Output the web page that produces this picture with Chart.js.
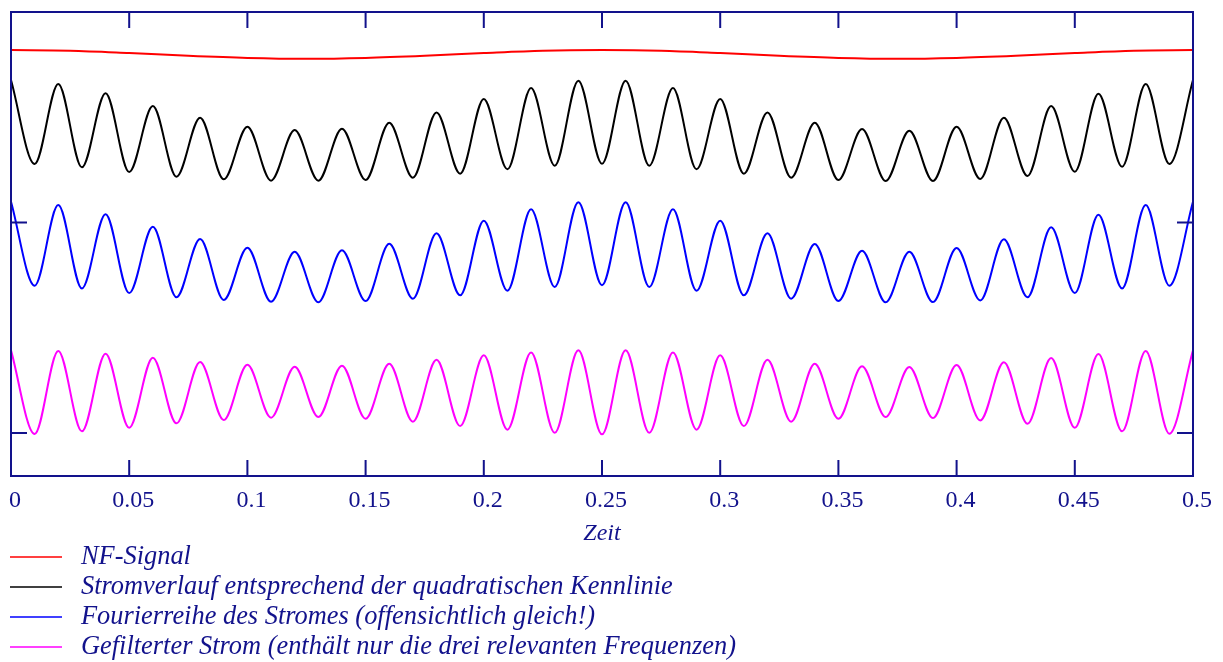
<!DOCTYPE html>
<html lang="de">
<head>
  <meta charset="UTF-8">
  <title>Quadratische Kennlinie</title>
  <style>
    body { margin: 0; background: #fff; }
  </style>
</head>
<body>

  <canvas id="myChart" width="1223" height="662"></canvas>

  <script src="https://cdn.jsdelivr.net/npm/chart.js"></script>
  <script>
// Zeitachse (s)
const zeit = [0, 0.01, 0.02, 0.03, 0.04, 0.05, 0.06, 0.07, 0.08, 0.09,
  0.1, 0.11, 0.12, 0.13, 0.14, 0.15, 0.16, 0.17, 0.18, 0.19,
  0.2, 0.21, 0.22, 0.23, 0.24, 0.25, 0.26, 0.27, 0.28, 0.29,
  0.3, 0.31, 0.32, 0.33, 0.34, 0.35, 0.36, 0.37, 0.38, 0.39,
  0.4, 0.41, 0.42, 0.43, 0.44, 0.45, 0.46, 0.47, 0.48, 0.49, 0.5];
const zeitNF = [0, 0.025, 0.05, 0.075, 0.1, 0.125, 0.15, 0.175, 0.2, 0.225,
  0.25, 0.275, 0.3, 0.325, 0.35, 0.375, 0.4, 0.425, 0.45, 0.475, 0.5];

const nfSignal = [181.9, 181.6, 180.5, 179.2, 178.2, 177.8, 178.2, 179.2, 180.5, 181.6,
  181.9, 181.6, 180.5, 179.2, 178.2, 177.8, 178.2, 179.2, 180.5, 181.6, 181.9];
const stromverlauf = [167.7, 127.8, 165.8, 126.2, 161.4, 124.0, 155.3, 121.8, 149.8, 120.5,
  145.5, 119.9, 143.9, 119.9, 144.6, 120.2, 147.4, 121.3, 152.3, 123.2,
  158.7, 125.3, 163.9, 127.0, 167.4, 127.9, 167.4, 127.0, 163.9, 125.3,
  158.7, 123.2, 152.3, 121.3, 147.4, 120.2, 144.4, 119.7, 143.6, 119.7,
  145.5, 120.7, 149.8, 122.1, 155.3, 124.1, 161.2, 126.5, 165.8, 127.8, 167.7];
const fourierreihe = [109.9, 70.0, 108.3, 68.7, 103.9, 66.5, 98.0, 64.5, 92.2, 63.2,
  88.0, 62.4, 86.1, 62.1, 86.8, 62.7, 89.9, 63.8, 94.9, 65.4,
  100.9, 67.6, 106.3, 69.4, 109.6, 70.2, 109.6, 69.4, 106.3, 67.6,
  100.9, 65.4, 94.9, 63.8, 89.8, 62.7, 86.6, 62.1, 86.1, 62.2,
  87.9, 63.0, 92.0, 64.5, 97.7, 66.5, 103.7, 68.7, 108.3, 70.0, 109.9];
const gefiltert = [39.3, -0.5, 39.0, 0.8, 37.7, 2.5, 35.8, 4.6, 33.7, 6.2,
  32.4, 7.3, 31.5, 7.6, 32.0, 6.8, 32.9, 5.4, 34.8, 3.3,
  36.9, 1.6, 38.3, 0.1, 39.3, -0.6, 39.3, 0.1, 38.3, 1.6,
  36.9, 3.3, 34.8, 5.4, 32.9, 6.8, 31.7, 7.6, 31.4, 7.1,
  32.3, 6.0, 33.6, 4.4, 35.6, 2.5, 37.5, 0.8, 39.0, -0.3, 39.3];

const xTickLabels = ['0', '0.05', '0.1', '0.15', '0.2', '0.25', '0.3', '0.35', '0.4', '0.45', '0.5'];
const yTicks = [0, 100, 200];

const navy = '#12128c';
const serif = "'Liberation Serif', 'Times New Roman', serif";

const pts = (xs, ys) => xs.map((x, i) => ({ x: x, y: ys[i] }));

// Rahmen mit Teilstrichen nach innen
const framePlugin = {
  id: 'framePlugin',
  afterDatasetsDraw: (chart) => {
    const ctx = chart.ctx;
    const a = chart.chartArea;
    const xs = chart.scales.x;
    const ys = chart.scales.y;
    const len = 16;
    ctx.save();
    ctx.strokeStyle = navy;
    ctx.lineWidth = 2;
    ctx.beginPath();
    ctx.rect(a.left, a.top, a.right - a.left, a.bottom - a.top);
    xTickLabels.forEach((lbl) => {
      const x = xs.getPixelForValue(parseFloat(lbl));
      ctx.moveTo(x, a.bottom); ctx.lineTo(x, a.bottom - len);
      ctx.moveTo(x, a.top); ctx.lineTo(x, a.top + len);
    });
    yTicks.forEach((v) => {
      const y = ys.getPixelForValue(v);
      ctx.moveTo(a.left, y); ctx.lineTo(a.left + len, y);
      ctx.moveTo(a.right, y); ctx.lineTo(a.right - len, y);
    });
    ctx.stroke();
    ctx.restore();
  }
};

// Legende unten links
const legendPlugin = {
  id: 'legendPlugin',
  afterDraw: (chart) => {
    const ctx = chart.ctx;
    const top = chart.chartArea.bottom + 81;
    ctx.save();
    ctx.font = 'italic 26.4px ' + serif;
    ctx.textBaseline = 'middle';
    chart.data.datasets.forEach((ds, i) => {
      const y = top + i * 30;
      ctx.strokeStyle = ds.borderColor;
      ctx.lineWidth = 1.5;
      ctx.beginPath();
      ctx.moveTo(10, y); ctx.lineTo(62, y);
      ctx.stroke();
      ctx.fillStyle = navy;
      ctx.fillText(ds.label, 81, y);
    });
    ctx.restore();
  }
};

const ctx = document.getElementById('myChart').getContext('2d');
const myChart = new Chart(ctx, {
  type: 'line',
  data: {
    datasets: [
      { label: 'NF-Signal', data: pts(zeitNF, nfSignal), borderColor: '#ff0000' },
      { label: 'Stromverlauf entsprechend der quadratischen Kennlinie', data: pts(zeit, stromverlauf), borderColor: '#000000' },
      { label: 'Fourierreihe des Stromes (offensichtlich gleich!)', data: pts(zeit, fourierreihe), borderColor: '#0000ff' },
      { label: 'Gefilterter Strom (enthält nur die drei relevanten Frequenzen)', data: pts(zeit, gefiltert), borderColor: '#ff00ff' }
    ]
  },
  options: {
    responsive: false,
    animation: false,
    datasets: {
      line: {
        borderWidth: 2,
        pointRadius: 0,
        fill: false,
        cubicInterpolationMode: 'monotone'
      }
    },
    layout: {
      padding: { left: 11, right: 30, top: 12, bottom: 114.4 }
    },
    scales: {
      x: {
        type: 'linear',
        min: 0,
        max: 0.5,
        grid: { display: false, drawTicks: false },
        border: { display: false },
        afterBuildTicks: (scale) => {
          scale.ticks = xTickLabels.map((l) => ({ value: parseFloat(l) }));
        },
        afterFit: (scale) => {
          scale.paddingLeft = 0;
          scale.paddingRight = 0;
        },
        ticks: {
          padding: 10,
          labelOffset: 4,
          maxRotation: 0,
          autoSkip: false,
          color: navy,
          font: { family: serif, size: 24 },
          callback: (value, index) => xTickLabels[index]
        },
        title: {
          display: true,
          text: 'Zeit',
          color: navy,
          padding: { top: -6, bottom: 0 },
          font: { family: serif, size: 24, style: 'italic' }
        }
      },
      y: {
        display: false,
        min: -20.4,
        max: 200
      }
    },
    plugins: {
      legend: { display: false },
      tooltip: { enabled: false }
    }
  },
  plugins: [framePlugin, legendPlugin]
});
  </script>

</body>
</html>
